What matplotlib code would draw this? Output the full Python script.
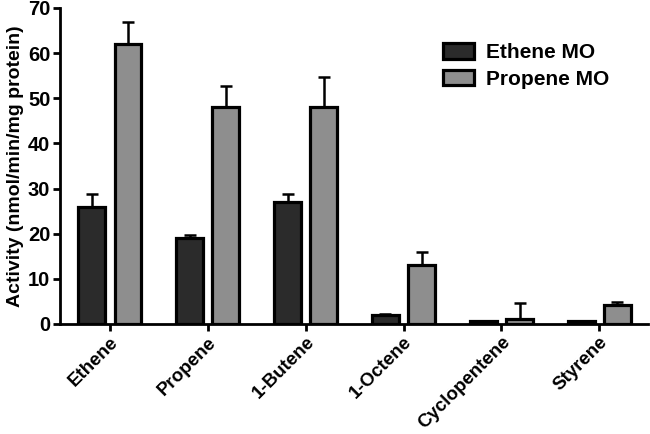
import matplotlib
matplotlib.use("Agg")
import matplotlib.pyplot as plt
import numpy as np
from matplotlib.patches import Patch

categories = ["Ethene", "Propene", "1-Butene", "1-Octene", "Cyclopentene", "Styrene"]
ethene_mo = [26.0, 19.1, 27.1, 2.1, 0.7, 0.7]
ethene_mo_err = [2.8, 0.7, 1.8, 0.2, 0.0, 0.0]
propene_mo = [62.1, 48.0, 48.0, 13.1, 1.0, 4.1]
propene_mo_err = [4.8, 4.8, 6.8, 2.8, 3.7, 0.8]
series_names = ["Ethene MO", "Propene MO"]
yticks = [0, 10, 20, 30, 40, 50, 60, 70]

plt.rcParams['font.family'] = ['Liberation Sans', 'DejaVu Sans']
plt.rcParams['font.weight'] = 'bold'

dark = "#2b2b2b"
gray = "#8e8e8e"

fig = plt.figure(figsize=(6.5, 4.34), dpi=100)
ax = fig.add_axes([0.0923, 0.2535, 0.905, 0.7281])

x = np.arange(len(categories))
w = 0.275
off = 0.185
lw = 2.3
ax.bar(x - off, ethene_mo, w, color=dark, edgecolor="black", linewidth=lw, zorder=3)
ax.bar(x + off, propene_mo, w, color=gray, edgecolor="black", linewidth=lw, zorder=3)
ax.errorbar(x - off, ethene_mo, yerr=[np.zeros(len(x)), ethene_mo_err], fmt="none",
            ecolor="black", elinewidth=1.8, capsize=4, capthick=1.8, zorder=2)
ax.errorbar(x + off, propene_mo, yerr=[np.zeros(len(x)), propene_mo_err], fmt="none",
            ecolor="black", elinewidth=1.8, capsize=4, capthick=1.8, zorder=2)

ax.set_xlim(-0.51, 5.5)
ax.set_ylim(0, 70)
ax.set_yticks(yticks)
ax.set_xticks(x)
ax.set_xticklabels(categories, rotation=45, ha="right", rotation_mode="anchor",
                   fontsize=13.5, fontweight="bold")
for lab in ax.get_yticklabels():
    lab.set_fontsize(14.5)
    lab.set_fontweight("bold")
ax.set_ylabel("Activity (nmol/min/mg protein)", fontsize=14, fontweight="bold", labelpad=3)

for s in ["top", "right"]:
    ax.spines[s].set_visible(False)
for s in ["left", "bottom"]:
    ax.spines[s].set_linewidth(2)
ax.tick_params(axis="both", width=2, length=5, direction="out", pad=2)

handles = [Patch(facecolor=dark, edgecolor="black", linewidth=2.3),
           Patch(facecolor=gray, edgecolor="black", linewidth=2.3)]
leg = ax.legend(handles, series_names, loc="upper left", bbox_to_anchor=(0.651, 0.889),
                frameon=False, fontsize=15, handlelength=1.5, handleheight=0.8,
                handletextpad=0.55, labelspacing=0.35, borderpad=0, borderaxespad=0)
for t in leg.get_texts():
    t.set_fontweight("bold")

fig.savefig("out.png", dpi=100)
